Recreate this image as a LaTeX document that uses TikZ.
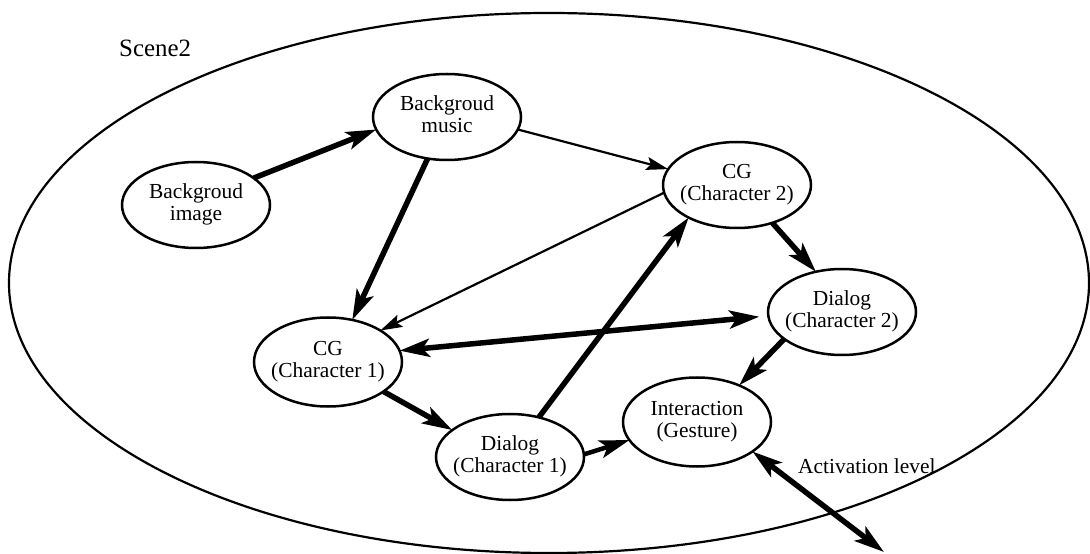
\documentclass[tikz,border=0pt]{standalone}
\usepackage{fontspec}
\setmainfont{Liberation Serif}
\usetikzlibrary{shapes.geometric,arrows.meta}

% two centred lines that do not widen the ellipse around them
\newcommand\twolines[2]{\makebox[0pt]{\begin{tabular}{@{}c@{}}#1\\#2\end{tabular}}}

\tikzset{
  ent/.style={ellipse, draw, line width=2.5bp, minimum width=148bp,
    minimum height=86bp, inner sep=0pt, outer sep=0pt,
    font=\fontsize{21.5}{22}\selectfont},
  thinlink/.style={line width=2.2bp,
    -{Stealth[length=22bp, width=13bp, inset=4bp]}},
  boldlink/.style={line width=5.5bp,
    -{Stealth[length=30bp, width=18bp, inset=7bp]}},
  bothlink/.style={line width=5.5bp,
    {Stealth[length=30bp, width=18bp, inset=7bp]}-{Stealth[length=30bp, width=18bp, inset=7bp]}},
}

\begin{document}
\begin{tikzpicture}[x=1bp, y=-1bp]
  \useasboundingbox (0,0) rectangle (1090,554);
  \fill[white] (0,0) rectangle (1090,554);

  % the scene boundary
  \node[draw, ellipse, line width=2.2bp, minimum width=1080bp,
        minimum height=540bp, inner sep=0pt] (scene) at (549,283) {};
  \node[anchor=base west, font=\fontsize{25}{27}\selectfont, inner sep=0pt]
        (title) at (119,57) {Scene2};

  % media objects
  \node[ent] (bgi) at (196,205) {\twolines{Backgroud}{image}};
  \node[ent] (bgm) at (447,117) {\twolines{Backgroud}{music}};
  \node[ent] (cg2) at (737,185) {\twolines{CG}{(Character 2)}};
  \node[ent] (d2)  at (842,312) {\twolines{Dialog}{(Character 2)}};
  \node[ent, minimum height=89bp] (cg1) at (328,362) {\twolines{CG}{(Character 1)}};
  \node[ent] (d1)  at (510,457) {\twolines{Dialog}{(Character 1)}};
  \node[ent, minimum height=89bp] (int) at (697,422) {\twolines{Interaction}{(Gesture)}};

  \coordinate (out) at (884,552);
  \node[anchor=base west, font=\fontsize{21.5}{22}\selectfont, inner sep=0pt]
        (act) at (798,473) {Activation level};

  % links between the objects
  \draw[boldlink] (bgi.25) -- (bgm.190);
  \draw[thinlink] (bgm.-10) -- (cg2.167);
  \draw[boldlink] (bgm.245) -- (cg1.60);
  \draw[thinlink] (cg2.186) -- (cg1.31);
  \draw[bothlink, shorten >=9bp] (cg1.9) -- (d2.183);
  \draw[boldlink] (cg1.-28) -- (d1.155);
  \draw[boldlink] (d1.54) -- (cg2.214);
  \draw[boldlink] (cg2.-47) -- (d2.123);
  \draw[boldlink] (d2.205) -- (int.41);
  \draw[boldlink, line width=4.5bp] (d1.2) -- (int.195);
  \draw[bothlink] (int.-28) -- (out);
\end{tikzpicture}
\end{document}
